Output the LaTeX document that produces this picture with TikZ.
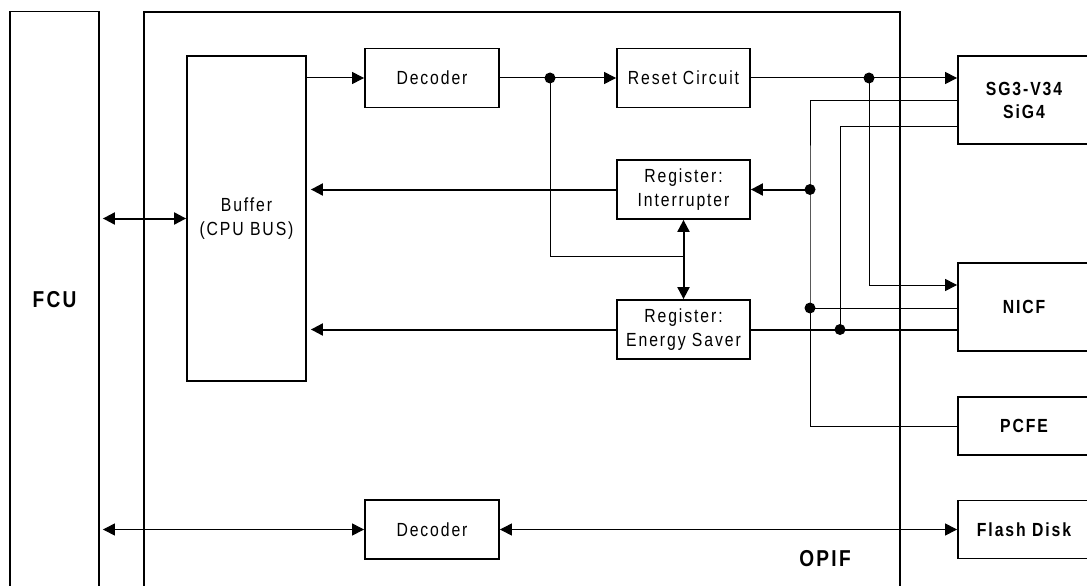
\documentclass[tikz,border=0pt]{standalone}
\usepackage{fontspec}
\setmainfont{Liberation Sans}[FakeStretch=0.83,LetterSpace=10]
\usetikzlibrary{arrows.meta}
\begin{document}
\begin{tikzpicture}[x=1pt,y=-1pt,
  >={Triangle[length=12pt,width=12pt]},
  box/.style={draw, line width=1.8pt, inner sep=0pt, align=center,
    font=\fontsize{19}{23.5}\selectfont},
  unit/.style={box, minimum width=134pt, minimum height=59pt},
  ext/.style={box, minimum width=132pt, font=\fontsize{19}{23}\selectfont\bfseries},
  frame/.style={draw, line width=1.8pt, inner sep=0pt},
  biglabel/.style={font=\fontsize{23}{26}\selectfont\bfseries, inner sep=0pt},
  wire/.style={line width=1pt},
  bus/.style={line width=2pt},
  dot/.style={circle, fill, inner sep=0pt, minimum size=11pt}
]
\clip (0,0) rectangle (1087,586);

% outer frames
\node[frame, minimum width=89pt, minimum height=577pt] (fcu) at (54.5,300) {};
\node[biglabel] (fculabel) at (54.5,300) {FCU};
\node[frame, anchor=north west, minimum width=756pt, minimum height=600pt] (opif) at (143,11.5) {};
\node[biglabel] (opiflabel) at (825,559) {OPIF};

% OPIF internals
\node[box, minimum width=119pt, minimum height=325pt] (buf) at (246.5,218.5) {Buffer\\(CPU BUS)};
\node[unit] (dec1) at (432,78) {Decoder};
\node[unit, minimum width=133pt] (reset) at (683.5,78) {Reset Circuit};
\node[unit, minimum width=133pt] (intr) at (683.5,189.5) {Register:\\Interrupter};
\node[unit, minimum width=133pt] (saver) at (683.5,329.5) {Register:\\Energy Saver};
\node[unit] (dec2) at (432,529.5) {Decoder};

% external units
\node[ext, minimum height=88pt] (sg3) at (1024,100) {SG3-V34\\SiG4};
\node[ext, minimum height=88pt] (nicf) at (1024,307) {NICF};
\node[ext, minimum height=58pt] (pcfe) at (1024,426) {PCFE};
\node[ext, minimum height=58pt] (flash) at (1024,529.5) {Flash Disk};

% junctions
\node[dot] (j1) at (550,78) {};
\node[dot] (j2) at (869,78) {};
\node[dot] (j3) at (810,189.5) {};
\node[dot] (j4) at (810,308) {};
\node[dot] (j5) at (840,329.5) {};
\coordinate (k1) at (683.5,256);

% decoder and reset path
\draw[wire,->] (buf.east |- dec1.west) -- (dec1.west);
\draw[wire,->] (dec1.east) -- (reset.west);
\draw[wire] (j1.center) |- (k1);
\draw[wire,->] (reset.east) -- (sg3.west |- reset.east);
\draw[wire,->] (j2.center) |- (nicf.west |- 0,285);

% register buses
\draw[bus,<->] (intr.south) -- (saver.north);
\draw[bus,->,shorten >=4pt] (intr.west) -- (intr.west -| buf.east);
\draw[bus,->,shorten >=4pt] (saver.west) -- (saver.west -| buf.east);
\draw[bus,->] (j3.center) -- (intr.east);
\draw[bus] (saver.east) -- (nicf.west |- saver.east);

% lines from the external units
\draw[wire] (sg3.west) -| (j3.center) |- (pcfe.west);
\draw[wire] (j4.center) -- (nicf.west |- j4.center);
\draw[wire] (sg3.west |- 0,126) -| (j5.center);

% FCU links and flash disk
\draw[bus,<->,shorten <=3pt] (fcu.east |- buf.west) -- (buf.west);
\draw[wire,<->,shorten <=3pt] (fcu.east |- dec2.west) -- (dec2.west);
\draw[wire,<->] (dec2.east) -- (flash.west);
\end{tikzpicture}
\end{document}
